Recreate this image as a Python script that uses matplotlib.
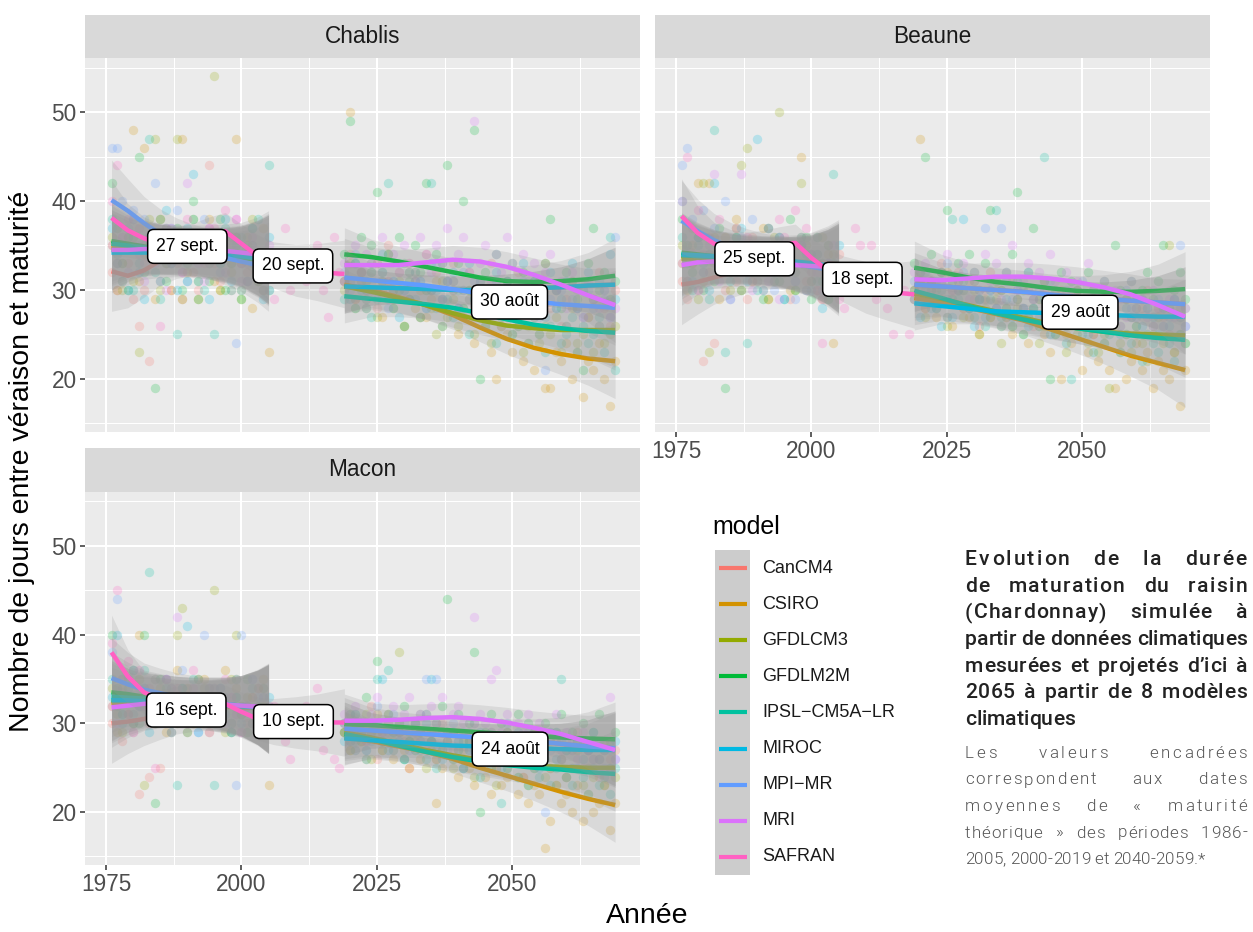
import numpy as np
import matplotlib
matplotlib.use("Agg")
import matplotlib.pyplot as plt
from matplotlib import font_manager, ft2font
from matplotlib.font_manager import FontProperties
from matplotlib.patches import Rectangle
from matplotlib.lines import Line2D

plt.rcParams["font.family"] = ["Liberation Sans", "DejaVu Sans"]

# ---------------------------------------------------------------- data
MODELS = ["CanCM4", "CSIRO", "GFDLCM3", "GFDLM2M", "IPSL-CM5A-LR", "MIROC", "MPI-MR", "MRI"]
COLORS = {"CanCM4": "#F8766D", "CSIRO": "#D39200", "GFDLCM3": "#93AA00",
          "GFDLM2M": "#00BA38", "IPSL-CM5A-LR": "#00C19F", "MIROC": "#00B9E3",
          "MPI-MR": "#619CFF", "MRI": "#DB72FB", "SAFRAN": "#FF61C3"}

HIST_YEARS = np.arange(1976, 2006)     # simulated reference period
SAFRAN_YEARS = np.arange(1976, 2020)   # observed reanalysis
PROJ_YEARS = np.arange(2019, 2070)     # projections

# loess fit knots
HIST_KNOTS = [1976, 1979, 1982, 1985, 1988, 1991, 1994, 1997, 2000, 2003, 2005]
SAFRAN_KNOTS = [1976, 1979, 1982, 1985, 1988, 1991, 1994, 1997, 2000, 2003, 2006, 2010, 2014, 2019]
PROJ_KNOTS = [2019, 2024, 2029, 2034, 2039, 2044, 2049, 2054, 2059, 2064, 2069]
HIST_SE = [4.5, 3.6, 3.0, 2.8, 2.7, 2.7, 2.8, 3.0, 3.4, 4.2, 5.0]
SAFRAN_SE = [4.2, 3.0, 2.4, 2.2, 2.1, 2.1, 2.1, 2.1, 2.2, 2.4, 2.6, 2.9, 3.2, 3.8]
PROJ_SE = [3.0, 2.0, 1.7, 1.6, 1.6, 1.6, 1.7, 1.9, 2.3, 3.0, 4.2]

# --- Chablis
CHABLIS_HIST = {
    "CanCM4": [32, 30, 31, 33, 29, 26, 30, 22, 34, 31, 35, 30, 33, 29, 36, 32, 30, 35, 44, 33, 31, 34, 30, 36, 33, 32, 35, 31, 34, 33],
    "CSIRO": [35, 30, 33, 36, 48, 31, 46, 34, 29, 38, 33, 30, 35, 47, 32, 36, 29, 34, 38, 31, 30, 35, 33, 47, 30, 36, 28, 33, 37, 23],
    "GFDLCM3": [36, 33, 30, 35, 31, 23, 34, 38, 47, 30, 33, 36, 47, 29, 34, 38, 31, 35, 33, 54, 30, 36, 32, 34, 29, 35, 38, 31, 30, 34],
    "GFDLM2M": [42, 37, 33, 30, 36, 45, 32, 35, 19, 38, 31, 34, 37, 30, 33, 40, 29, 36, 31, 35, 38, 30, 33, 36, 29, 34, 37, 31, 33, 30],
    "IPSL-CM5A-LR": [38, 34, 31, 36, 30, 33, 35, 47, 32, 29, 37, 33, 25, 36, 31, 38, 34, 30, 35, 25, 33, 37, 30, 34, 36, 31, 33, 38, 30, 44],
    "MIROC": [37, 33, 35, 30, 38, 32, 29, 36, 34, 31, 39, 33, 30, 35, 37, 43, 31, 34, 29, 36, 33, 38, 31, 35, 30, 34, 37, 32, 29, 36],
    "MPI-MR": [46, 46, 40, 37, 39, 35, 38, 34, 42, 36, 33, 37, 39, 35, 31, 36, 34, 38, 33, 35, 32, 36, 34, 24, 33, 31, 35, 32, 34, 30],
    "MRI": [35, 33, 36, 32, 38, 34, 31, 36, 33, 35, 30, 37, 34, 32, 42, 35, 33, 31, 37, 34, 36, 32, 35, 38, 31, 33, 36, 34, 32, 35],
}
CHABLIS_SAFRAN = [40, 44, 36, 38, 35, 37, 33, 36, 34, 26, 37, 33, 35, 32, 38, 34, 36, 33, 37, 37,
                  35, 39, 36, 38, 33, 31, 34, 32, 30, 33, 29, 33, 37, 30, 32, 34, 31, 33, 35, 30,
                  27, 36, 32, 31]
CHABLIS_PROJ = {
    "CanCM4": [31, 34, 29, 32, 30, 33, 28, 31, 35, 30, 32, 29, 33, 31, 27, 34, 30, 32, 29, 31, 33, 28, 30, 32, 27, 31, 29, 33, 30, 26, 31, 28, 32, 29, 30, 27, 31, 33, 28, 30, 26, 29, 31, 28, 30, 27, 29, 32, 28, 26, 30],
    "CSIRO": [31, 50, 29, 32, 28, 30, 33, 27, 31, 29, 30, 26, 32, 28, 30, 27, 29, 31, 26, 28, 30, 25, 27, 29, 24, 28, 26, 23, 20, 27, 25, 23, 26, 22, 24, 21, 25, 19, 19, 23, 22, 24, 20, 23, 18, 22, 21, 24, 20, 17, 22],
    "GFDLCM3": [30, 33, 28, 31, 29, 32, 27, 30, 34, 28, 31, 26, 29, 32, 27, 30, 28, 25, 31, 27, 29, 26, 28, 30, 25, 27, 29, 24, 28, 26, 27, 25, 28, 23, 26, 29, 24, 26, 25, 27, 23, 26, 28, 24, 25, 27, 23, 26, 24, 25, 26],
    "GFDLM2M": [34, 49, 33, 36, 31, 35, 41, 32, 34, 30, 36, 33, 31, 35, 32, 42, 30, 34, 33, 44, 31, 33, 40, 30, 48, 20, 32, 30, 34, 29, 31, 33, 28, 32, 30, 31, 29, 33, 38, 30, 28, 32, 31, 29, 21, 33, 37, 30, 32, 29, 31],
    "IPSL-CM5A-LR": [29, 31, 28, 32, 30, 27, 29, 31, 42, 28, 30, 26, 29, 31, 27, 30, 42, 28, 26, 29, 27, 30, 28, 25, 29, 27, 26, 28, 24, 27, 29, 25, 26, 28, 24, 27, 25, 23, 26, 28, 24, 25, 27, 23, 26, 24, 25, 27, 23, 36, 21],
    "MIROC": [31, 29, 33, 30, 28, 32, 30, 34, 29, 31, 27, 30, 32, 29, 31, 28, 33, 30, 29, 31, 32, 28, 30, 33, 29, 31, 27, 30, 32, 29, 31, 30, 28, 33, 29, 31, 30, 27, 32, 30, 29, 31, 33, 28, 30, 32, 29, 31, 30, 34, 29],
    "MPI-MR": [32, 30, 34, 31, 29, 33, 30, 32, 28, 31, 33, 30, 29, 32, 31, 28, 30, 33, 29, 31, 30, 28, 32, 29, 31, 27, 30, 29, 31, 28, 30, 27, 29, 31, 28, 30, 27, 21, 29, 28, 30, 26, 29, 28, 27, 30, 28, 26, 29, 27, 36],
    "MRI": [33, 31, 35, 32, 34, 30, 33, 36, 31, 34, 32, 35, 33, 31, 36, 34, 32, 35, 33, 37, 31, 34, 36, 32, 49, 33, 35, 31, 34, 32, 36, 33, 30, 34, 31, 33, 29, 32, 34, 30, 31, 28, 32, 30, 27, 31, 29, 28, 30, 27, 28],
}
CHABLIS_HIST_FIT = {
    "CanCM4": [32.1, 31.6, 32.2, 33.3, 34.0, 34.3, 34.3, 34.1, 33.9, 33.7, 33.6],
    "CSIRO": [35.0, 34.8, 34.6, 34.5, 34.4, 34.3, 34.2, 34.0, 33.8, 33.6, 33.4],
    "GFDLCM3": [34.5, 34.6, 34.7, 34.7, 34.6, 34.4, 34.2, 34.0, 33.8, 33.6, 33.4],
    "GFDLM2M": [35.5, 35.2, 34.9, 34.6, 34.4, 34.2, 34.0, 33.8, 33.6, 33.4, 33.2],
    "IPSL-CM5A-LR": [35.2, 35.0, 34.8, 34.6, 34.4, 34.3, 34.1, 33.9, 33.7, 33.5, 33.4],
    "MIROC": [34.2, 34.2, 34.2, 34.2, 34.2, 34.1, 34.0, 33.9, 33.8, 33.6, 33.5],
    "MPI-MR": [40.1, 38.9, 37.5, 36.3, 35.4, 34.7, 34.1, 33.6, 33.2, 32.8, 32.6],
    "MRI": [34.5, 34.5, 34.6, 34.6, 34.6, 34.6, 34.5, 34.4, 34.2, 34.0, 33.9],
}
CHABLIS_SAFRAN_FIT = [38.1, 36.7, 35.8, 35.2, 35.0, 35.4, 36.1, 36.6, 35.2, 33.8, 32.8, 32.2, 32.0, 31.8]
CHABLIS_PROJ_FIT = {
    "CanCM4": [30.4, 30.3, 30.2, 30.1, 30.0, 30.0, 30.1, 30.2, 30.3, 30.5, 30.6],
    "CSIRO": [30.6, 30.0, 29.2, 28.3, 27.2, 25.8, 24.5, 23.5, 22.8, 22.3, 22.0],
    "GFDLCM3": [30.4, 29.8, 29.1, 28.3, 27.4, 26.6, 26.0, 25.7, 25.5, 25.5, 25.5],
    "GFDLM2M": [34.0, 33.7, 33.2, 32.6, 32.0, 31.4, 31.0, 30.9, 31.0, 31.2, 31.6],
    "IPSL-CM5A-LR": [29.3, 29.0, 28.7, 28.4, 28.0, 27.4, 26.7, 26.1, 25.7, 25.4, 25.2],
    "MIROC": [30.4, 30.3, 30.2, 30.1, 30.0, 30.0, 30.1, 30.2, 30.3, 30.5, 30.6],
    "MPI-MR": [31.4, 31.1, 30.8, 30.5, 30.1, 29.6, 29.1, 28.7, 28.4, 28.2, 28.0],
    "MRI": [32.8, 32.8, 32.8, 33.1, 33.4, 33.2, 32.6, 31.7, 30.6, 29.4, 28.3],
}
CHABLIS_LABEL_X = [1990.0, 2009.5, 2049.5]
CHABLIS_LABEL_Y = [34.9, 32.7, 28.65]
CHABLIS_LABELS = ["27 sept.", "20 sept.", "30 août"]

# --- Beaune
BEAUNE_HIST = {
    "CanCM4": [31, 29, 33, 30, 22, 32, 24, 34, 30, 35, 31, 33, 29, 36, 32, 30, 34, 31, 35, 33, 29, 32, 36, 31, 34, 30, 33, 35, 32, 34],
    "CSIRO": [33, 30, 35, 42, 31, 42, 34, 29, 36, 32, 38, 30, 33, 35, 31, 37, 29, 34, 36, 32, 30, 35, 45, 33, 31, 36, 29, 34, 24, 32],
    "GFDLCM3": [35, 31, 33, 29, 42, 23, 36, 32, 34, 30, 37, 44, 46, 31, 35, 33, 29, 36, 50, 32, 34, 30, 42, 35, 31, 33, 36, 29, 34, 32],
    "GFDLM2M": [38, 35, 32, 36, 30, 34, 31, 37, 19, 33, 36, 30, 34, 32, 35, 29, 37, 33, 31, 35, 38, 30, 33, 36, 29, 34, 31, 35, 33, 30],
    "IPSL-CM5A-LR": [36, 33, 30, 35, 32, 29, 48, 34, 23, 31, 36, 33, 24, 35, 30, 34, 37, 31, 33, 29, 35, 32, 36, 30, 34, 31, 33, 29, 43, 32],
    "MIROC": [40, 34, 31, 36, 33, 30, 42, 35, 32, 29, 34, 37, 31, 33, 47, 30, 35, 32, 36, 29, 33, 31, 35, 34, 30, 36, 28, 33, 31, 35],
    "MPI-MR": [44, 46, 38, 36, 39, 34, 37, 33, 40, 35, 32, 36, 34, 38, 31, 35, 33, 30, 36, 34, 32, 29, 35, 33, 31, 34, 30, 33, 32, 31],
    "MRI": [33, 31, 34, 30, 32, 35, 43, 31, 33, 29, 34, 43, 32, 30, 35, 33, 31, 34, 29, 32, 35, 31, 33, 30, 34, 32, 29, 33, 35, 31],
}
BEAUNE_SAFRAN = [40, 45, 37, 39, 34, 36, 33, 38, 35, 32, 37, 34, 36, 31, 35, 33, 37, 34, 38, 36,
                 33, 39, 35, 37, 32, 30, 24, 33, 31, 29, 28, 32, 37, 35, 30, 35, 29, 31, 28, 25,
                 32, 30, 25, 29]
BEAUNE_PROJ = {
    "CanCM4": [30, 32, 28, 31, 29, 33, 27, 30, 32, 28, 31, 29, 26, 30, 32, 28, 30, 27, 31, 29, 28, 30, 26, 29, 31, 27, 29, 30, 26, 28, 30, 27, 29, 25, 28, 30, 27, 28, 26, 29, 27, 25, 28, 30, 26, 28, 27, 25, 29, 27, 28],
    "CSIRO": [30, 47, 28, 31, 27, 29, 32, 26, 30, 28, 27, 31, 25, 29, 27, 30, 26, 28, 25, 29, 27, 24, 28, 26, 25, 23, 27, 20, 25, 24, 26, 21, 23, 25, 22, 24, 21, 19, 23, 20, 22, 24, 21, 23, 19, 22, 21, 20, 23, 17, 21],
    "GFDLCM3": [29, 31, 27, 30, 28, 32, 26, 29, 31, 27, 28, 30, 25, 28, 27, 29, 24, 27, 26, 28, 25, 27, 29, 24, 26, 28, 25, 27, 23, 26, 25, 27, 24, 26, 23, 25, 19, 26, 24, 25, 23, 26, 24, 22, 25, 27, 24, 35, 23, 25, 24],
    "GFDLM2M": [33, 31, 45, 34, 30, 32, 39, 31, 33, 30, 34, 32, 29, 33, 39, 31, 30, 32, 34, 41, 30, 32, 37, 29, 31, 20, 30, 32, 29, 31, 30, 28, 32, 30, 29, 31, 28, 35, 30, 29, 31, 28, 30, 32, 29, 31, 35, 28, 30, 32, 29],
    "IPSL-CM5A-LR": [30, 32, 29, 31, 28, 30, 27, 38, 29, 31, 28, 27, 30, 26, 29, 39, 27, 28, 26, 29, 25, 27, 28, 26, 45, 27, 25, 28, 24, 20, 26, 25, 27, 23, 26, 24, 25, 27, 23, 25, 24, 26, 22, 25, 24, 23, 26, 24, 22, 25, 24],
    "MIROC": [29, 27, 30, 28, 31, 26, 29, 27, 30, 38, 28, 26, 29, 27, 30, 28, 26, 29, 27, 31, 28, 26, 28, 27, 29, 25, 28, 27, 26, 29, 27, 28, 25, 27, 29, 26, 28, 27, 25, 28, 27, 29, 26, 28, 27, 25, 28, 26, 29, 27, 26],
    "MPI-MR": [31, 29, 32, 30, 28, 31, 33, 29, 30, 32, 28, 31, 29, 37, 30, 28, 37, 31, 29, 30, 28, 32, 29, 30, 27, 31, 29, 28, 30, 27, 29, 31, 28, 29, 27, 30, 28, 29, 26, 30, 28, 27, 29, 28, 26, 29, 28, 27, 29, 35, 28],
    "MRI": [32, 30, 33, 31, 29, 32, 34, 30, 31, 33, 29, 32, 30, 34, 31, 33, 29, 32, 35, 30, 31, 33, 29, 32, 30, 34, 31, 29, 32, 30, 31, 28, 33, 30, 29, 31, 28, 30, 29, 27, 31, 28, 29, 27, 30, 28, 26, 29, 27, 28, 26],
}
BEAUNE_HIST_FIT = {
    "CanCM4": [30.6, 30.9, 31.4, 31.9, 32.4, 32.7, 33.0, 33.1, 33.1, 33.0, 32.9],
    "CSIRO": [33.8, 33.7, 33.6, 33.5, 33.4, 33.3, 33.1, 33.0, 32.8, 32.6, 32.5],
    "GFDLCM3": [33.5, 33.6, 33.7, 33.7, 33.6, 33.4, 33.2, 33.0, 32.8, 32.6, 32.5],
    "GFDLM2M": [34.2, 34.0, 33.8, 33.6, 33.4, 33.3, 33.2, 33.0, 32.8, 32.6, 32.4],
    "IPSL-CM5A-LR": [33.9, 33.8, 33.7, 33.5, 33.3, 33.2, 33.1, 32.9, 32.7, 32.5, 32.3],
    "MIROC": [34.0, 33.9, 33.8, 33.6, 33.5, 33.4, 33.3, 33.2, 33.0, 32.8, 32.7],
    "MPI-MR": [37.8, 36.6, 35.6, 34.8, 34.2, 33.7, 33.3, 32.9, 32.6, 32.3, 32.1],
    "MRI": [32.8, 33.1, 33.2, 33.2, 33.1, 33.0, 32.9, 32.8, 32.7, 32.6, 32.5],
}
BEAUNE_SAFRAN_FIT = [38.3, 36.4, 35.2, 34.6, 34.4, 34.6, 35.0, 35.3, 33.6, 32.2, 31.2, 30.3, 29.8, 29.5]
BEAUNE_PROJ_FIT = {
    "CanCM4": [30.6, 30.4, 30.2, 30.0, 29.8, 29.5, 29.2, 29.0, 28.8, 28.6, 28.4],
    "CSIRO": [29.1, 28.6, 28.0, 27.3, 26.6, 25.6, 24.6, 23.6, 22.6, 21.8, 21.0],
    "GFDLCM3": [29.6, 29.0, 28.3, 27.6, 26.9, 26.2, 25.7, 25.3, 25.1, 25.0, 24.9],
    "GFDLM2M": [32.5, 32.0, 31.4, 30.9, 30.6, 30.2, 29.9, 29.8, 29.8, 29.9, 30.1],
    "IPSL-CM5A-LR": [29.9, 29.1, 28.2, 27.4, 26.7, 26.1, 25.7, 25.3, 24.9, 24.6, 24.4],
    "MIROC": [28.5, 28.2, 27.9, 27.6, 27.5, 27.4, 27.3, 27.2, 27.1, 27.0, 27.0],
    "MPI-MR": [30.6, 30.4, 30.2, 30.0, 29.8, 29.5, 29.2, 29.0, 28.8, 28.6, 28.4],
    "MRI": [31.2, 31.1, 31.3, 31.5, 31.5, 31.3, 30.9, 30.3, 29.5, 28.3, 27.0],
}
BEAUNE_LABEL_X = [1989.5, 2009.4, 2049.6]
BEAUNE_LABEL_Y = [33.5, 31.2, 27.5]
BEAUNE_LABELS = ["25 sept.", "18 sept.", "29 août"]

# --- Macon
MACON_HIST = {
    "CanCM4": [30, 32, 28, 31, 29, 22, 33, 24, 30, 25, 32, 34, 30, 33, 29, 31, 35, 32, 30, 34, 31, 33, 29, 35, 32, 30, 33, 31, 34, 32],
    "CSIRO": [32, 29, 34, 31, 30, 40, 33, 30, 35, 32, 29, 33, 36, 31, 34, 30, 32, 35, 29, 33, 31, 36, 30, 34, 32, 29, 33, 31, 35, 23],
    "GFDLCM3": [34, 31, 29, 33, 30, 35, 23, 32, 30, 34, 31, 29, 40, 43, 33, 30, 32, 34, 31, 45, 33, 29, 35, 40, 31, 33, 30, 34, 32, 29],
    "GFDLM2M": [40, 34, 31, 33, 36, 30, 40, 32, 21, 35, 31, 33, 30, 34, 29, 32, 35, 31, 33, 30, 34, 32, 29, 33, 31, 35, 30, 32, 34, 31],
    "IPSL-CM5A-LR": [35, 32, 30, 34, 31, 33, 36, 47, 30, 32, 34, 29, 23, 33, 31, 35, 30, 32, 34, 23, 31, 33, 30, 35, 32, 29, 34, 31, 33, 30],
    "MIROC": [33, 40, 31, 35, 30, 32, 34, 29, 33, 31, 35, 30, 32, 34, 41, 31, 29, 33, 30, 32, 34, 31, 29, 33, 30, 32, 35, 31, 29, 33],
    "MPI-MR": [38, 44, 35, 33, 36, 32, 34, 31, 35, 33, 30, 34, 32, 36, 31, 33, 29, 40, 32, 34, 31, 33, 30, 23, 40, 32, 30, 33, 31, 32],
    "MRI": [32, 30, 33, 31, 29, 34, 32, 30, 33, 31, 35, 29, 42, 32, 30, 34, 31, 33, 29, 32, 34, 30, 33, 31, 29, 32, 35, 30, 33, 31],
}
MACON_SAFRAN = [39, 45, 35, 37, 33, 36, 32, 34, 25, 33, 35, 31, 34, 32, 30, 36, 33, 31, 34, 32,
                30, 35, 33, 31, 29, 32, 30, 34, 31, 29, 32, 30, 28, 26, 31, 29, 32, 30, 34, 27,
                31, 26, 25, 30]
MACON_PROJ = {
    "CanCM4": [29, 31, 27, 30, 28, 32, 26, 29, 31, 27, 30, 28, 25, 29, 31, 27, 29, 26, 30, 28, 27, 29, 25, 28, 30, 26, 28, 29, 25, 27, 29, 26, 28, 24, 27, 29, 26, 27, 25, 28, 26, 24, 27, 29, 25, 27, 26, 24, 28, 26, 27],
    "CSIRO": [29, 27, 30, 28, 26, 29, 31, 27, 28, 26, 29, 27, 25, 28, 26, 29, 27, 21, 25, 28, 26, 24, 27, 25, 23, 26, 24, 22, 25, 23, 24, 26, 22, 24, 21, 23, 22, 16, 19, 23, 21, 22, 20, 23, 19, 22, 20, 21, 23, 18, 21],
    "GFDLCM3": [29, 27, 30, 28, 31, 26, 29, 27, 30, 28, 38, 26, 28, 27, 29, 25, 28, 26, 27, 29, 25, 27, 26, 28, 24, 26, 27, 25, 23, 26, 25, 27, 24, 26, 23, 25, 26, 24, 25, 23, 26, 24, 25, 27, 23, 25, 24, 26, 23, 25, 24],
    "GFDLM2M": [30, 28, 31, 29, 33, 30, 37, 28, 31, 29, 30, 32, 28, 30, 29, 31, 28, 30, 32, 44, 29, 31, 28, 30, 38, 20, 29, 31, 28, 30, 29, 27, 31, 28, 30, 29, 27, 30, 28, 29, 31, 27, 29, 28, 30, 27, 29, 31, 27, 28, 29],
    "IPSL-CM5A-LR": [29, 31, 28, 30, 27, 29, 35, 28, 36, 27, 29, 26, 28, 30, 27, 26, 28, 25, 27, 29, 26, 28, 25, 27, 26, 24, 27, 25, 26, 21, 25, 27, 24, 26, 23, 25, 24, 26, 23, 25, 35, 24, 23, 25, 24, 22, 25, 23, 24, 22, 25],
    "MIROC": [28, 30, 27, 29, 26, 28, 30, 35, 27, 29, 28, 26, 29, 27, 28, 30, 35, 27, 26, 28, 29, 27, 25, 28, 27, 29, 26, 28, 27, 25, 28, 27, 29, 26, 27, 28, 25, 27, 29, 26, 28, 27, 25, 28, 26, 27, 29, 26, 27, 25, 28],
    "MPI-MR": [30, 28, 31, 29, 27, 30, 32, 28, 29, 31, 28, 30, 27, 29, 31, 35, 28, 35, 29, 27, 30, 28, 29, 27, 30, 28, 26, 29, 27, 28, 30, 26, 28, 27, 29, 26, 28, 20, 27, 29, 26, 28, 27, 25, 28, 27, 26, 28, 25, 27, 26],
    "MRI": [31, 29, 32, 30, 28, 31, 33, 29, 30, 32, 29, 31, 33, 30, 28, 31, 32, 30, 33, 29, 31, 32, 30, 29, 42, 31, 30, 35, 36, 29, 31, 28, 30, 29, 31, 27, 30, 28, 29, 31, 27, 29, 28, 26, 29, 27, 28, 26, 27, 33, 26],
}
MACON_HIST_FIT = {
    "CanCM4": [30.0, 30.2, 30.5, 31.0, 31.5, 31.8, 32.0, 32.0, 31.9, 31.8, 31.7],
    "CSIRO": [32.3, 32.3, 32.3, 32.3, 32.2, 32.1, 32.0, 31.9, 31.8, 31.7, 31.6],
    "GFDLCM3": [32.5, 32.6, 32.7, 32.7, 32.6, 32.5, 32.4, 32.2, 32.0, 31.8, 31.6],
    "GFDLM2M": [33.5, 33.3, 33.0, 32.8, 32.6, 32.4, 32.2, 32.1, 32.0, 31.8, 31.7],
    "IPSL-CM5A-LR": [33.0, 32.9, 32.8, 32.7, 32.6, 32.5, 32.4, 32.2, 32.0, 31.8, 31.6],
    "MIROC": [32.6, 32.6, 32.5, 32.4, 32.3, 32.2, 32.1, 32.0, 31.9, 31.8, 31.7],
    "MPI-MR": [35.1, 34.4, 33.8, 33.4, 33.0, 32.7, 32.4, 32.2, 32.0, 31.8, 31.6],
    "MRI": [31.8, 32.0, 32.2, 32.3, 32.3, 32.3, 32.2, 32.1, 32.0, 31.9, 31.8],
}
MACON_SAFRAN_FIT = [38.0, 35.3, 33.5, 32.7, 32.4, 32.3, 32.3, 32.2, 31.3, 30.5, 30.2, 30.1, 30.1, 30.1]
MACON_PROJ_FIT = {
    "CanCM4": [29.4, 29.2, 29.0, 28.8, 28.6, 28.4, 28.2, 28.0, 27.7, 27.4, 27.2],
    "CSIRO": [28.4, 28.0, 27.4, 26.8, 26.0, 25.0, 24.1, 23.2, 22.3, 21.5, 20.8],
    "GFDLCM3": [29.0, 28.4, 27.7, 27.0, 26.4, 25.9, 25.5, 25.2, 25.1, 25.0, 25.0],
    "GFDLM2M": [29.9, 29.8, 29.6, 29.4, 29.2, 29.0, 28.8, 28.6, 28.4, 28.3, 28.2],
    "IPSL-CM5A-LR": [28.8, 28.2, 27.5, 26.8, 26.2, 25.7, 25.3, 25.0, 24.8, 24.5, 24.3],
    "MIROC": [28.3, 28.1, 27.9, 27.7, 27.5, 27.4, 27.3, 27.2, 27.1, 27.0, 27.0],
    "MPI-MR": [29.4, 29.2, 29.0, 28.8, 28.6, 28.4, 28.2, 28.0, 27.7, 27.4, 27.2],
    "MRI": [30.3, 30.3, 30.4, 30.6, 30.7, 30.5, 30.1, 29.5, 28.8, 27.9, 27.0],
}
MACON_LABEL_X = [1989.8, 2009.6, 2049.6]
MACON_LABEL_Y = [31.5, 30.2, 27.1]
MACON_LABELS = ["16 sept.", "10 sept.", "24 août"]

TITLE_LINES = ["Evolution de la durée", "de maturation du raisin", "(Chardonnay) simulée à",
               "partir de données climatiques", "mesurées et projetés d\u2019ici à",
               "2065 à partir de 8 modèles", "climatiques"]
NOTE_LINES = ["Les valeurs encadrées", "correspondent aux dates",
              "moyennes de \u00ab maturité", "théorique \u00bb des périodes 1986-",
              "2005, 2000-2019 et 2040-2059.*"]

# ---------------------------------------------------------------- figure
W, H = 1253, 932
fig = plt.figure(figsize=(W / 100, H / 100), dpi=100)
fig.patch.set_facecolor("white")


def fx(px):
    return px / W


def fy(py):
    return 1 - py / H


XLIM = (1971.1, 2073.6)
YLIM = (14.04, 56.07)
RIBBON_ALPHA = 0.22
POINT_ALPHA = 0.22


def smooth(ax, knots, fit, se, color):
    fit = np.asarray(fit)
    se = np.asarray(se)
    ax.fill_between(knots, fit - se, fit + se, color="#999999", alpha=RIBBON_ALPHA,
                    lw=0, zorder=3)
    ax.plot(knots, fit, color=color, lw=3.2, zorder=3, solid_capstyle="butt")


def panel(ax, hist, safran, proj, hist_fit, safran_fit, proj_fit, lx, ly, ltxt,
          show_x=True, show_y=True):
    ax.set_facecolor("#EBEBEB")
    ax.set_xlim(*XLIM)
    ax.set_ylim(*YLIM)
    ax.set_xticks([1975, 2000, 2025, 2050])
    ax.set_xticks([1987.5, 2012.5, 2037.5, 2062.5], minor=True)
    ax.set_yticks([20, 30, 40, 50])
    ax.set_yticks([15, 25, 35, 45, 55], minor=True)
    ax.grid(which="major", color="white", lw=1.5)
    ax.grid(which="minor", color="white", lw=0.75)
    ax.set_axisbelow(True)
    for s in ax.spines.values():
        s.set_visible(False)
    ax.tick_params(which="major", length=3.6, width=1.1, color="#333333",
                   labelsize=16.3, labelcolor="#4D4D4D", pad=2.5)
    ax.tick_params(which="minor", length=0)
    if not show_x:
        ax.tick_params(axis="x", which="both", bottom=False, labelbottom=False)
    if not show_y:
        ax.tick_params(axis="y", which="both", left=False, labelleft=False)

    # observations / simulations
    for m in MODELS:
        ax.scatter(HIST_YEARS, hist[m], s=46, color=COLORS[m], alpha=POINT_ALPHA, lw=0, zorder=2)
        ax.scatter(PROJ_YEARS, proj[m], s=46, color=COLORS[m], alpha=POINT_ALPHA, lw=0, zorder=2)
    ax.scatter(SAFRAN_YEARS, safran, s=46, color=COLORS["SAFRAN"], alpha=POINT_ALPHA, lw=0,
               zorder=2)

    # smoothed trends with confidence ribbons
    for m in MODELS:
        smooth(ax, HIST_KNOTS, hist_fit[m], HIST_SE, COLORS[m])
    for m in MODELS:
        smooth(ax, PROJ_KNOTS, proj_fit[m], PROJ_SE, COLORS[m])
    smooth(ax, SAFRAN_KNOTS, safran_fit, SAFRAN_SE, COLORS["SAFRAN"])

    for x, y, t in zip(lx, ly, ltxt):
        ax.text(x, y, t, ha="center", va="center", fontsize=12.7, color="black", zorder=10,
                bbox=dict(boxstyle="round,pad=0.48,rounding_size=0.35", fc="white",
                          ec="black", lw=1.1))


def strip(x0, top, bottom, name):
    s = fig.add_axes([fx(x0), fy(bottom), 555 / W, (bottom - top) / H])
    s.set_facecolor("#D9D9D9")
    s.set_xticks([])
    s.set_yticks([])
    for sp in s.spines.values():
        sp.set_visible(False)
    s.text(0.5, 0.5, name, ha="center", va="center", fontsize=16.3, color="#1A1A1A",
           transform=s.transAxes)


ax_ch = fig.add_axes([fx(85), fy(432), 555 / W, 374 / H])
ax_be = fig.add_axes([fx(655), fy(432), 555 / W, 374 / H])
ax_ma = fig.add_axes([fx(85), fy(865), 555 / W, 373 / H])

panel(ax_ch, CHABLIS_HIST, CHABLIS_SAFRAN, CHABLIS_PROJ, CHABLIS_HIST_FIT,
      CHABLIS_SAFRAN_FIT, CHABLIS_PROJ_FIT, CHABLIS_LABEL_X, CHABLIS_LABEL_Y,
      CHABLIS_LABELS, show_x=False, show_y=True)
panel(ax_be, BEAUNE_HIST, BEAUNE_SAFRAN, BEAUNE_PROJ, BEAUNE_HIST_FIT,
      BEAUNE_SAFRAN_FIT, BEAUNE_PROJ_FIT, BEAUNE_LABEL_X, BEAUNE_LABEL_Y,
      BEAUNE_LABELS, show_x=True, show_y=False)
panel(ax_ma, MACON_HIST, MACON_SAFRAN, MACON_PROJ, MACON_HIST_FIT,
      MACON_SAFRAN_FIT, MACON_PROJ_FIT, MACON_LABEL_X, MACON_LABEL_Y,
      MACON_LABELS, show_x=True, show_y=True)

strip(85, 15, 58, "Chablis")
strip(655, 15, 58, "Beaune")
strip(85, 448, 492, "Macon")

fig.text(fx(647.5), fy(916), "Année", ha="center", va="center", fontsize=20.5)
fig.text(fx(22), fy(461.5), "Nombre de jours entre véraison et maturité", rotation=90,
         ha="center", va="center", fontsize=20.5)

# ---------------------------------------------------------------- legend
fig.text(fx(712), fy(527), "model", ha="left", va="center", fontsize=18, color="black")
KEY_TOP, KEY_STEP = 550, 36.1
fig.add_artist(Rectangle((fx(715), fy(KEY_TOP + 9 * KEY_STEP)), 35 / W, 9 * KEY_STEP / H,
                         transform=fig.transFigure, facecolor="#CCCCCC", edgecolor="none"))
for i, m in enumerate(MODELS + ["SAFRAN"]):
    yc = KEY_TOP + KEY_STEP * (i + 0.5)
    fig.add_artist(Line2D([fx(719), fx(747)], [fy(yc), fy(yc)], transform=fig.transFigure,
                          color=COLORS[m], lw=3.0, solid_capstyle="butt"))
    fig.text(fx(762), fy(yc), m.replace("-", "\u2212"), ha="left", va="center",
             fontsize=13, color="#1A1A1A")

# ---------------------------------------------------------------- caption
try:
    NOHINT = ft2font.LoadFlags.NO_HINTING
except AttributeError:
    NOHINT = ft2font.LOAD_NO_HINTING


def advances(text, fp):
    font = ft2font.FT2Font(font_manager.findfont(fp))
    font.set_size(fp.get_size_in_points(), fig.dpi)
    return [font.load_char(ord(c), flags=NOHINT).linearHoriAdvance / 65536 for c in text]


def paragraph(lines, x0, x1, baselines, fp, color):
    space = advances(" ", fp)[0]
    for i, (line, yb) in enumerate(zip(lines, baselines)):
        words = line.split(" ")
        adv = [advances(w, fp) for w in words]
        natural = sum(sum(a) for a in adv) + space * (len(words) - 1)
        inner = sum(len(w) - 1 for w in words)
        if i == len(lines) - 1 or len(words) == 1:
            ls, gap = 0.0, space
        else:
            extra = max(0.0, (x1 - x0) - natural)
            ls = 0.35 * extra / max(inner, 1)
            gap = space + (extra - ls * inner) / (len(words) - 1)
        x = x0
        for w, a in zip(words, adv):
            for ch, da in zip(w, a):
                fig.text(fx(x), fy(yb), ch, fontproperties=fp, color=color,
                         ha="left", va="baseline")
                x += da + ls
            x += gap - ls


title_fp = FontProperties(family="Roboto", weight=560, size=10)
title_fp.set_size(10 * 280 / sum(advances(TITLE_LINES[3], title_fp)))
note_fp = FontProperties(family="Roboto", weight=310, size=10)
note_fp.set_size(10 * 240 / sum(advances(NOTE_LINES[-1], note_fp)))

paragraph(TITLE_LINES, 965, 1247, [565 + 26.7 * k for k in range(7)], title_fp, "#222222")
paragraph(NOTE_LINES, 965, 1247, [758 + 26.5 * k for k in range(5)], note_fp, "#555555")

fig.savefig("out.png", dpi=100, facecolor="white")
